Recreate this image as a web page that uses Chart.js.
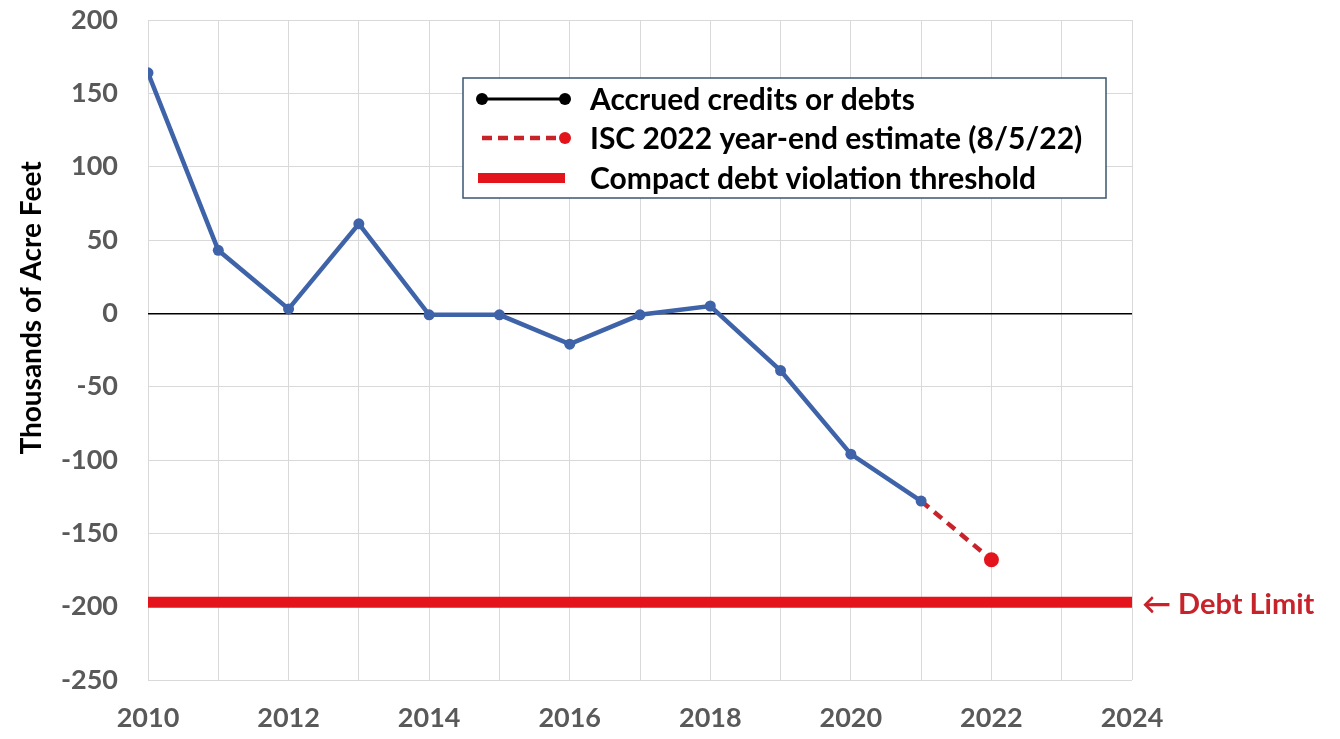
<!DOCTYPE html>
<html>
<head>
<meta charset="utf-8">
<script src="https://cdn.jsdelivr.net/npm/chart.js@4.4.0/dist/chart.umd.min.js"></script>
<style>
html, body { margin: 0; padding: 0; background: #fff; }
#wrap { width: 1340px; height: 739px; }
</style>
</head>
<body>
<div id="wrap"><canvas id="debt-chart"></canvas></div>
<script>
// Rio Grande compact accrued credits/debts, thousands of acre feet
const years = [2010, 2011, 2012, 2013, 2014, 2015, 2016, 2017, 2018, 2019, 2020, 2021];
const accrued = [164, 43, 3, 61, -1, -1, -21, -1, 5, -39, -96, -128];
const estimateYears = [2021, 2022];
const estimate = [-128, -168];
const thresholdYears = [2010, 2024];
const thresholdValue = -197;
const labels = ['Accrued credits or debts', 'ISC 2022 year-end estimate (8/5/22)', 'Compact debt violation threshold'];
const yTitle = 'Thousands of Acre Feet';

const BLUE = '#3e63a8';
const RED = '#e3141b';
const DASH_RED = '#c8232b';
const GRID = '#d9d9d9';
const TICK = '#595959';
const FONT = 'Lato, "Open Sans", sans-serif';

// legend box, y title and "Debt Limit" note, drawn on top of the chart
const overlay = {
    id: 'overlay',
    afterDraw(c) {
        const ctx = c.ctx;
        ctx.save();
        // legend
        const bx = 463, by = 78, bw = 643, bh = 120;
        ctx.fillStyle = '#fff';
        ctx.fillRect(bx, by, bw, bh);
        ctx.strokeStyle = '#3b5670';
        ctx.lineWidth = 1.5;
        ctx.strokeRect(bx, by, bw, bh);

        const rows = [99, 138, 178];
        ctx.font = 'bold 30px ' + FONT;
        ctx.textBaseline = 'middle';
        ctx.fillStyle = '#000';
        labels.forEach((t, i) => ctx.fillText(t, 590, rows[i] + 1));

        // row 1: black line with dots
        ctx.strokeStyle = '#000';
        ctx.lineWidth = 3;
        ctx.beginPath(); ctx.moveTo(482, rows[0]); ctx.lineTo(565, rows[0]); ctx.stroke();
        ctx.fillStyle = '#000';
        [482, 565].forEach(x => { ctx.beginPath(); ctx.arc(x, rows[0], 6, 0, Math.PI * 2); ctx.fill(); });
        // row 2: red dashed with dot
        ctx.strokeStyle = DASH_RED;
        ctx.lineWidth = 4.5;
        ctx.setLineDash([10, 6]);
        ctx.beginPath(); ctx.moveTo(482, rows[1]); ctx.lineTo(563, rows[1]); ctx.stroke();
        ctx.setLineDash([]);
        ctx.fillStyle = RED;
        ctx.beginPath(); ctx.arc(565, rows[1], 6, 0, Math.PI * 2); ctx.fill();
        // row 3: thick red bar
        ctx.fillStyle = RED;
        ctx.fillRect(478, rows[2] - 5, 87, 10);

        // y axis title
        ctx.save();
        ctx.translate(32, 308);
        ctx.rotate(-Math.PI / 2);
        ctx.textAlign = 'center';
        ctx.fillStyle = '#000';
        ctx.font = 'bold 28px ' + FONT;
        ctx.fillText(yTitle, 0, 0);
        ctx.restore();

        // debt limit note
        const y = c.scales.y.getPixelForValue(thresholdValue);
        ctx.fillStyle = '#c8232b';
        ctx.font = 'bold 29px ' + FONT;
        ctx.fillText('\u2190 Debt Limit', c.chartArea.right + 10, y + 2);
        ctx.restore();
    }
};

new Chart(document.getElementById('debt-chart'), {
    type: 'line',
    data: {
        datasets: [
            {
                label: labels[0],
                data: years.map((x, i) => ({ x, y: accrued[i] })),
                borderColor: BLUE, backgroundColor: BLUE,
                borderWidth: 4.5, pointRadius: 5.5, pointBorderWidth: 0,
                order: 1
            },
            {
                label: labels[1],
                data: estimateYears.map((x, i) => ({ x, y: estimate[i] })),
                borderColor: DASH_RED, backgroundColor: RED,
                borderWidth: 4.5, borderDash: [10, 7],
                pointRadius: [0, 7.5], pointBorderWidth: 0,
                order: 2
            },
            {
                label: labels[2],
                data: thresholdYears.map(x => ({ x, y: thresholdValue })),
                borderColor: RED, borderWidth: 11, pointRadius: 0,
                order: 3
            }
        ]
    },
    options: {
        responsive: true,
        maintainAspectRatio: false,
        animation: false,
        layout: { padding: { left: 0, right: 208, top: 0, bottom: 0 } },
        plugins: { legend: { display: false }, tooltip: { enabled: false } },
        scales: {
            x: {
                type: 'linear', min: 2010, max: 2024,
                border: { display: false },
                grid: { color: GRID, lineWidth: 1, drawTicks: false },
                ticks: {
                    stepSize: 1, autoSkip: false, padding: 22,
                    color: TICK, font: { family: FONT, size: 27, weight: 'bold' },
                    callback: v => (v % 2 === 0 ? String(v) : '')
                },
                afterFit: s => { s.height = 59; }
            },
            y: {
                min: -250, max: 200,
                border: { display: false },
                grid: {
                    drawTicks: false,
                    color: ctx => (ctx.tick && ctx.tick.value === 0 ? '#000' : GRID),
                    lineWidth: ctx => (ctx.tick && ctx.tick.value === 0 ? 1.5 : 1)
                },
                ticks: {
                    stepSize: 50, padding: 30,
                    color: TICK, font: { family: FONT, size: 27, weight: 'bold' }
                },
                afterFit: s => { s.width = 148; s.paddingTop = 20; s.paddingBottom = 0; }
            }
        }
    },
    plugins: [overlay]
});
</script>
</body>
</html>
